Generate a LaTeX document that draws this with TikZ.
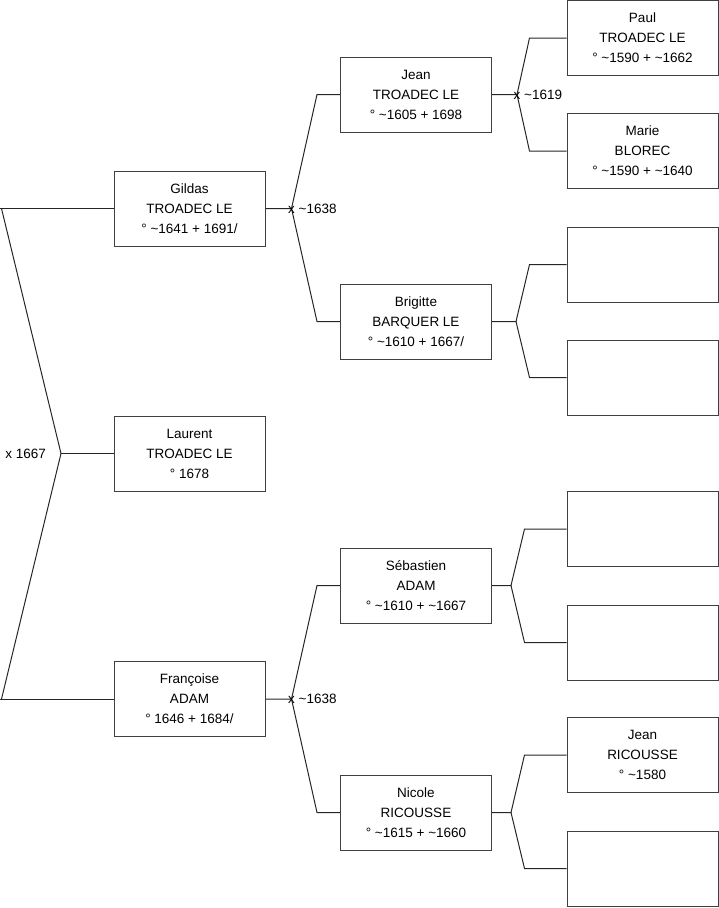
\documentclass[tikz,border=0pt]{standalone}
\usepackage{fontspec}
\setmainfont{Liberation Sans}
\usetikzlibrary{positioning,calc}

\begin{document}
\begin{tikzpicture}[x=1pt,y=-1pt,
  person/.style={draw=black!75,line width=1pt,minimum width=151pt,minimum height=75pt,
    inner sep=0pt,align=center,font=\fontsize{13.5}{20}\selectfont},
  link/.style={black!85,line width=1pt},
  wedding/.style={right,inner sep=0pt,xshift=-3.5pt,font=\fontsize{13.5}{16}\selectfont}]
\useasboundingbox (0,0) rectangle (719,908);

% children
\node[person] (gildas) at (189.5,208.5) {Gildas\\TROADEC LE\\° \textasciitilde1641 + 1691/};
\node[person] (laurent) at (189.5,453.5) {Laurent\\TROADEC LE\\° 1678};
\node[person] (francoise) at (189.5,699) {Françoise\\ADAM\\° 1646 + 1684/};

% parents
\node[person] (jean) at (416,94.5) {Jean\\TROADEC LE\\° \textasciitilde1605 + 1698};
\node[person] (brigitte) at (416,321.5) {Brigitte\\BARQUER LE\\° \textasciitilde1610 + 1667/};
\node[person] (sebastien) at (416,585.5) {Sébastien\\ADAM\\° \textasciitilde1610 + \textasciitilde1667};
\node[person] (nicole) at (416,812.5) {Nicole\\RICOUSSE\\° \textasciitilde1615 + \textasciitilde1660};

% grandparents
\node[person] (paul) at (642.5,38) {Paul\\TROADEC LE\\° \textasciitilde1590 + \textasciitilde1662};
\node[person] (marie) at (642.5,151) {Marie\\BLOREC\\° \textasciitilde1590 + \textasciitilde1640};
\node[person] (gp3) at (642.5,264.5) {};
\node[person] (gp4) at (642.5,377.5) {};
\node[person] (gp5) at (642.5,529) {};
\node[person] (gp6) at (642.5,642.5) {};
\node[person] (jeanr) at (642.5,755) {Jean\\RICOUSSE\\° \textasciitilde1580};
\node[person] (gp8) at (642.5,868.5) {};

% siblings bracket
\coordinate (mar) at (61,453.5);
\draw[link] (gildas.west) -- ++(-114,0);
\draw[link] ($(gildas.west)+(-112,0)$) -- (mar) -- ($(francoise.west)+(-112,0)$);
\draw[link] (francoise.west) -- ++(-114,0);
\draw[link] (mar) -- (laurent.west);
\node[left,inner sep=0pt,font=\fontsize{13.5}{16}\selectfont] (m1667) at ($(mar)+(-15,0)$) {x 1667};

% parents of Gildas
\draw[link] (gildas.east) -- ++(26,0) coordinate (wg) -- ($(jean.west)+(-23,0)$) -- (jean.west);
\draw[link] (wg) -- ($(brigitte.west)+(-23,0)$) -- (brigitte.west);
\node[wedding] (mg) at (wg) {x \textasciitilde1638};

% parents of Francoise
\draw[link] (francoise.east) -- ++(26,0) coordinate (wf) -- ($(sebastien.west)+(-23,0)$) -- (sebastien.west);
\draw[link] (wf) -- ($(nicole.west)+(-23,0)$) -- (nicole.west);
\node[wedding] (mf) at (wf) {x \textasciitilde1638};

% grandparents
\draw[link] (jean.east) -- ++(25,0) coordinate (wj) -- ($(paul.west)+(-37,0)$) -- (paul.west);
\draw[link] (wj) -- ($(marie.west)+(-37,0)$) -- (marie.west);
\node[wedding] (mj) at (wj) {x \textasciitilde1619};

\draw[link] (brigitte.east) -- ++(24,0) coordinate (wb) -- ($(gp3.west)+(-37,0)$) -- (gp3.west);
\draw[link] (wb) -- ($(gp4.west)+(-37,0)$) -- (gp4.west);

\draw[link] (sebastien.east) -- ++(19,0) coordinate (ws) -- ($(gp5.west)+(-42,0)$) -- (gp5.west);
\draw[link] (ws) -- ($(gp6.west)+(-42,0)$) -- (gp6.west);

\draw[link] (nicole.east) -- ++(19,0) coordinate (wn) -- ($(jeanr.west)+(-42,0)$) -- (jeanr.west);
\draw[link] (wn) -- ($(gp8.west)+(-42,0)$) -- (gp8.west);
\end{tikzpicture}
\end{document}
